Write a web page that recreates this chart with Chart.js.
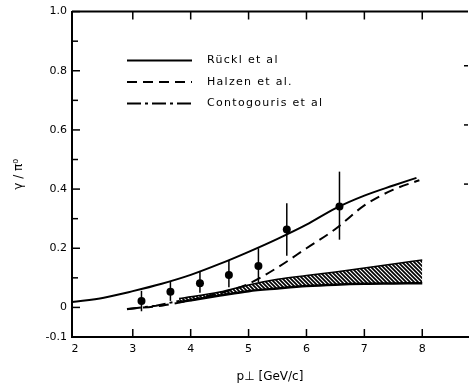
<!DOCTYPE html>
<html>
<head>
<meta charset="utf-8">
<script src="https://cdn.jsdelivr.net/npm/chart.js@4.4.1/dist/chart.umd.min.js"></script>
<style>
  body { margin: 0; background: #fff; }
  canvas { display: block; }
</style>
</head>
<body>
<canvas id="gammaChart" width="472" height="386"></canvas>
<script>
// curves
const rucklX = [1.95, 2.5, 3, 3.5, 4, 4.5, 5, 5.5, 6, 6.5, 7, 7.5, 7.9];
const rucklY = [0.018, 0.033, 0.055, 0.08, 0.11, 0.147, 0.188, 0.232, 0.28, 0.335, 0.378, 0.412, 0.438];

const halzenX = [2.9, 3.5, 4, 4.5, 5, 5.5, 6, 6.5, 7, 7.5, 7.95];
const halzenY = [-0.005, 0.006, 0.024, 0.048, 0.08, 0.135, 0.2, 0.265, 0.345, 0.398, 0.43];

const contoX = [2.9, 3.4, 3.8];
const contoY = [-0.006, 0.006, 0.022];

const bandX = [3.8, 4.5, 5, 5.5, 6, 6.5, 7, 7.5, 8];
const bandUpper = [0.03, 0.052, 0.076, 0.095, 0.108, 0.12, 0.133, 0.147, 0.16];
const bandLower = [0.018, 0.04, 0.055, 0.064, 0.072, 0.077, 0.08, 0.081, 0.082];

// measured gamma / pi0 ratio
const dataX = [3.15, 3.65, 4.16, 4.66, 5.17, 5.66, 6.57];
const dataY = [0.022, 0.053, 0.082, 0.11, 0.14, 0.263, 0.341];
const errLow = [-0.013, 0.022, 0.05, 0.068, 0.086, 0.175, 0.229];
const errHigh = [0.056, 0.087, 0.122, 0.16, 0.2, 0.352, 0.459];

const seriesNames = ['R\u00fcckl et al', 'Halzen et al.', 'Contogouris et al'];

const xTicks = [2, 3, 4, 5, 6, 7, 8];
const xTickMarks = [3, 4, 5, 6, 7, 8];
const yTicks = [-0.1, 0, 0.1, 0.2, 0.3, 0.4, 0.5, 0.6, 0.7, 0.8, 0.9, 1.0];
const yTickLabels = ['-0.1', '0', '', '0.2', '', '0.4', '', '0.6', '', '0.8', '', '1.0'];
const rightTickMarks = [0.4, 0.6, 0.8];

const pts = (xs, ys) => xs.map((x, i) => ({ x: x, y: ys[i] }));
const FONT = "'DejaVu Sans', sans-serif";

const canvas = document.getElementById('gammaChart');
const ctx = canvas.getContext('2d');

function hatchPattern() {
    const c = document.createElement('canvas');
    c.width = 4; c.height = 4;
    const g = c.getContext('2d');
    g.strokeStyle = '#000';
    g.lineWidth = 1.7;
    g.beginPath();
    g.moveTo(-1, -1); g.lineTo(5, 5);
    g.moveTo(3, -1); g.lineTo(5, 1);
    g.moveTo(-1, 3); g.lineTo(1, 5);
    g.stroke();
    return ctx.createPattern(c, 'repeat');
}

const frameAndBars = {
    id: 'frameAndBars',
    afterDatasetsDraw(chart) {
        const { ctx, chartArea: a, scales: { x, y } } = chart;
        ctx.save();
        ctx.strokeStyle = '#000';

        // error bars
        ctx.lineWidth = 1.5;
        dataX.forEach((v, i) => {
            const px = x.getPixelForValue(v);
            ctx.beginPath();
            ctx.moveTo(px, y.getPixelForValue(errLow[i]));
            ctx.lineTo(px, y.getPixelForValue(errHigh[i]));
            ctx.stroke();
        });

        // top frame + inward ticks
        ctx.lineWidth = 2;
        ctx.beginPath();
        ctx.moveTo(a.left, a.top);
        ctx.lineTo(a.right, a.top);
        ctx.stroke();
        ctx.lineWidth = 1.5;
        xTickMarks.forEach(v => {
            const px = x.getPixelForValue(v);
            ctx.beginPath();
            ctx.moveTo(px, a.bottom); ctx.lineTo(px, a.bottom - 8);
            ctx.moveTo(px, a.top); ctx.lineTo(px, a.top + 8);
            ctx.stroke();
        });
        yTicks.forEach((v, i) => {
            const py = y.getPixelForValue(v);
            const len = yTickLabels[i] ? 8 : 6;
            ctx.beginPath();
            ctx.moveTo(a.left, py); ctx.lineTo(a.left + len, py);
            ctx.stroke();
        });
        rightTickMarks.forEach(v => {
            const py = y.getPixelForValue(v) - 5;
            ctx.beginPath();
            ctx.moveTo(a.right, py); ctx.lineTo(a.right - 4, py);
            ctx.stroke();
        });

        // legend inside the frame
        ctx.font = '11px ' + FONT;
        ctx.fillStyle = '#000';
        ctx.textBaseline = 'middle';
        ctx.letterSpacing = '1.3px';
        seriesNames.forEach((name, i) => {
            const ds = chart.data.datasets[i];
            const ly = a.top + 49 + i * 21.5;
            ctx.lineWidth = 2;
            ctx.setLineDash(ds.borderDash || []);
            ctx.beginPath();
            ctx.moveTo(a.left + 55, ly);
            ctx.lineTo(a.left + 120, ly);
            ctx.stroke();
            ctx.setLineDash([]);
            ctx.fillText(name, a.left + 135, ly);
        });
        ctx.restore();
    }
};

new Chart(ctx, {
    type: 'line',
    data: {
        datasets: [
            {
                label: seriesNames[0],
                data: pts(rucklX, rucklY),
                borderColor: '#000',
                borderWidth: 2,
                pointRadius: 0,
                cubicInterpolationMode: 'monotone',
                fill: false
            },
            {
                label: seriesNames[1],
                data: pts(halzenX, halzenY),
                borderColor: '#000',
                borderWidth: 2,
                borderDash: [10, 6],
                pointRadius: 0,
                cubicInterpolationMode: 'monotone',
                fill: false
            },
            {
                label: seriesNames[2],
                data: pts(contoX, contoY),
                borderColor: '#000',
                borderWidth: 2,
                borderDash: [14, 4, 3, 4],
                pointRadius: 0,
                fill: false
            },
            {
                label: 'band upper',
                data: pts(bandX, bandUpper),
                borderColor: '#000',
                borderWidth: 1.5,
                backgroundColor: hatchPattern(),
                pointRadius: 0,
                cubicInterpolationMode: 'monotone',
                fill: '+1'
            },
            {
                label: 'band lower',
                data: pts(bandX, bandLower),
                borderColor: '#000',
                borderWidth: 2.5,
                pointRadius: 0,
                cubicInterpolationMode: 'monotone',
                fill: false
            },
            {
                label: 'data',
                data: pts(dataX, dataY),
                showLine: false,
                pointRadius: 4,
                pointBackgroundColor: '#000',
                pointBorderColor: '#000',
                pointBorderWidth: 0
            }
        ]
    },
    options: {
        responsive: false,
        animation: false,
        layout: { padding: 0 },
        plugins: {
            legend: { display: false },
            tooltip: { enabled: false }
        },
        scales: {
            x: {
                type: 'linear',
                position: 'bottom',
                min: 1.95,
                max: 8.79,
                afterBuildTicks: s => { s.ticks = xTicks.map(v => ({ value: v })); },
                afterFit: s => { s.height = 49; },
                grid: { display: false, drawTicks: false },
                border: { display: true, color: '#000', width: 2 },
                ticks: {
                    autoSkip: false,
                    maxRotation: 0,
                    padding: 6,
                    color: '#000',
                    font: { family: FONT, size: 11 }
                },
                title: {
                    display: true,
                    text: 'p\u22a5 [GeV/c]',
                    color: '#000',
                    font: { family: FONT, size: 12 },
                    padding: { top: 0, bottom: 2 }
                }
            },
            y: {
                type: 'linear',
                min: -0.1,
                max: 1.0,
                afterBuildTicks: s => { s.ticks = yTicks.map(v => ({ value: v })); },
                afterFit: s => { s.width = 72; },
                grid: { display: false, drawTicks: false },
                border: { display: true, color: '#000', width: 2 },
                ticks: {
                    autoSkip: false,
                    padding: 5,
                    color: '#000',
                    font: { family: FONT, size: 11 },
                    callback: (value, index) => yTickLabels[index]
                },
                title: {
                    display: true,
                    text: '\u03b3 / \u03c0\u2070',
                    color: '#000',
                    font: { family: FONT, size: 12 },
                    padding: { top: 12, bottom: 0 }
                }
            }
        }
    },
    plugins: [frameAndBars]
});
</script>
</body>
</html>
